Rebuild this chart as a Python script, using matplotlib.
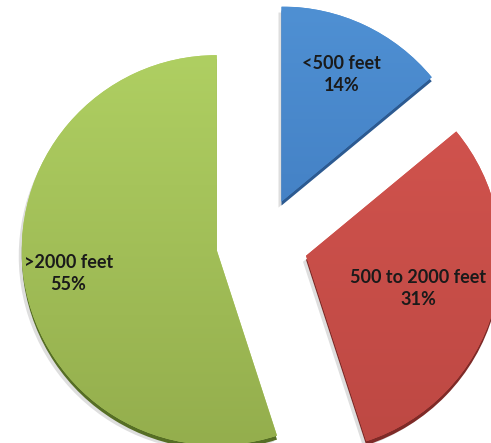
import numpy as np
import matplotlib
matplotlib.use("Agg")
import matplotlib.pyplot as plt
from matplotlib.patches import Wedge
from matplotlib.colors import LinearSegmentedColormap

# -------- DATA --------
labels = ["<500 feet", "500 to 2000 feet", ">2000 feet"]
shares = [14, 31, 55]

# -------- STYLE --------
top_colors = ["#4f90d3", "#d4554f", "#afcf62"]
bottom_colors = ["#3a74b9", "#bd4843", "#94ae4d"]
side_colors = ["#2c5a91", "#7e2a27", "#566e25"]
label_dist = [0.72, 0.6, 0.77]

W, H = 491, 443
R = 195
fig = plt.figure(figsize=(W / 100, H / 100), dpi=100)
ax = fig.add_axes([0, 0, 1, 1])

# explode is in data units here (radius is not 1)
wedges, _ = ax.pie(shares, startangle=90, counterclock=False,
                   center=(262, 200), radius=R,
                   explode=[0.235 * R] * len(shares),
                   colors=top_colors)

for i, w in enumerate(wedges):
    cx, cy = w.center
    # soft drop shadow
    ax.add_patch(Wedge((cx - 3, cy - 6), w.r, w.theta1, w.theta2,
                       color="#c8c8c8", alpha=0.6, zorder=0.5, lw=0))
    # side / depth
    ax.add_patch(Wedge((cx, cy - 4), w.r, w.theta1, w.theta2,
                       color=side_colors[i], zorder=0.8, lw=0))
    w.set_zorder(1)
    w.set_linewidth(0)

    # vertical gradient clipped to the slice
    cmap = LinearSegmentedColormap.from_list("g", [bottom_colors[i], top_colors[i]])
    grad = np.linspace(0, 1, 256).reshape(-1, 1)
    im = ax.imshow(grad, cmap=cmap, origin="lower", aspect="auto",
                   extent=(cx - w.r, cx + w.r, cy - w.r, cy + w.r), zorder=1.1)
    im.set_clip_path(w)

    mid = np.deg2rad((w.theta1 + w.theta2) / 2)
    tx = cx + label_dist[i] * w.r * np.cos(mid)
    ty = cy + label_dist[i] * w.r * np.sin(mid)
    ax.text(tx, ty, f"{labels[i]}\n{shares[i]}%", ha="center", va="center",
            fontsize=13, fontweight="bold", family=["Lato", "DejaVu Sans"],
            color="#1a1a1a", linespacing=1.4, zorder=3)

ax.set_xlim(0, W)
ax.set_ylim(0, H)
ax.set_aspect("equal")
ax.axis("off")
fig.savefig("out.png", dpi=100)
